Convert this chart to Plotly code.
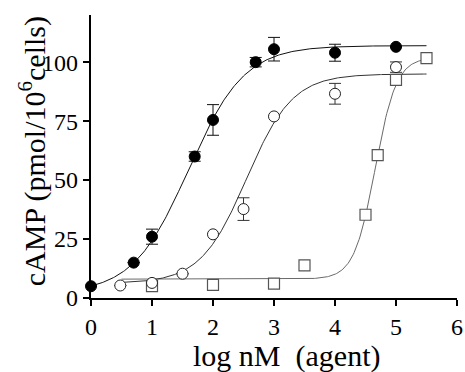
import numpy as np
import plotly.graph_objects as go

# ---- data ----
filled_x = [0, 0.7, 1, 1.7, 2, 2.7, 3, 4, 5]
filled_y = [5, 15, 26, 60, 75.5, 100, 105.5, 104, 106.5]
filled_err = [0, 0, 3.2, 2, 6.5, 2, 5, 3.6, 0]

open_x = [0.48, 1, 1.5, 2, 2.5, 3, 4, 5]
open_y = [5.3, 6.4, 10.3, 27, 37.7, 77, 86.6, 97.9]
open_err = [0, 0, 0, 0, 4.8, 0, 4.4, 2.2]

square_x = [1, 2, 3, 3.5, 4.5, 4.7, 5, 5.5]
square_y = [5.0, 5.6, 6.1, 13.8, 35.3, 60.6, 92.5, 101.7]

# fitted sigmoid parameters (bottom, top, logEC50, hill)
filled_fit = dict(bottom=2, top=107, logec50=1.6, hill=0.95, x0=0, x1=5.5)
open_fit = dict(bottom=6.2, top=95, logec50=2.55, hill=1.15, x0=0.48, x1=5.5)
square_fit = dict(bottom=8, top=102, logec50=4.66, hill=2.5, x0=0.5, x1=5.5)

x_ticks = [0, 1, 2, 3, 4, 5, 6]
y_ticks = [0, 25, 50, 75, 100]

x_title = "log nM\u00a0 (agent)"
y_title = "cAMP (pmol/10<sup>6</sup>cells)"


def fit_curve(p):
    xs = np.linspace(p["x0"], p["x1"], 300)
    ys = p["bottom"] + (p["top"] - p["bottom"]) / (1 + 10 ** ((p["logec50"] - xs) * p["hill"]))
    return xs, ys


FONT = "Liberation Serif"
fig = go.Figure()

for p, col in [(square_fit, "#6a6a6a"), (open_fit, "#333333"), (filled_fit, "#111111")]:
    xs, ys = fit_curve(p)
    fig.add_trace(go.Scatter(x=xs, y=ys, mode="lines", line=dict(color=col, width=1),
                             hoverinfo="skip", showlegend=False, cliponaxis=False))

fig.add_trace(go.Scatter(
    x=square_x, y=square_y, mode="markers", showlegend=False, cliponaxis=False,
    marker=dict(symbol="square", size=11, color="white", line=dict(color="#555555", width=1.2))))

fig.add_trace(go.Scatter(
    x=open_x, y=open_y, mode="markers", showlegend=False, cliponaxis=False,
    error_y=dict(type="data", array=open_err, color="#333333", thickness=1, width=6),
    marker=dict(symbol="circle", size=11, color="white", line=dict(color="#222222", width=1))))

fig.add_trace(go.Scatter(
    x=filled_x, y=filled_y, mode="markers", showlegend=False, cliponaxis=False,
    error_y=dict(type="data", array=filled_err, color="#111111", thickness=1, width=6),
    marker=dict(symbol="circle", size=11, color="black", line=dict(color="black", width=1))))

axis_common = dict(showline=True, linecolor="black", linewidth=2.2, ticks="outside",
                   ticklen=6, tickwidth=2, tickcolor="black", showgrid=False, zeroline=False,
                   automargin=False, ticklabeloverflow="allow",
                   tickfont=dict(family=FONT, size=24, color="black"))

fig.update_layout(
    width=465, height=372,
    margin=dict(l=91, r=8, t=15, b=74),
    paper_bgcolor="white", plot_bgcolor="white",
    font=dict(family=FONT, color="black", size=23),
    xaxis=dict(range=[0, 6], tickvals=x_ticks, ticktext=[str(v) for v in x_ticks], **axis_common),
    yaxis=dict(range=[0, 120], tickvals=y_ticks, ticktext=[str(v) for v in y_ticks], **axis_common),
    annotations=[
        dict(text=x_title, xref="paper", yref="paper", x=0.533, y=-0.205,
             xanchor="center", yanchor="middle", showarrow=False,
             font=dict(family=FONT, size=30, color="black")),
        dict(text=y_title, xref="paper", yref="paper", x=-0.161, y=0.519,
             xanchor="center", yanchor="middle", showarrow=False, textangle=-90,
             font=dict(family=FONT, size=30, color="black")),
    ],
)

fig.write_html(
    "out.html",
    config={"displayModeBar": False},
    post_script="document.body.style.margin='0';document.body.style.overflow='hidden';",
)
